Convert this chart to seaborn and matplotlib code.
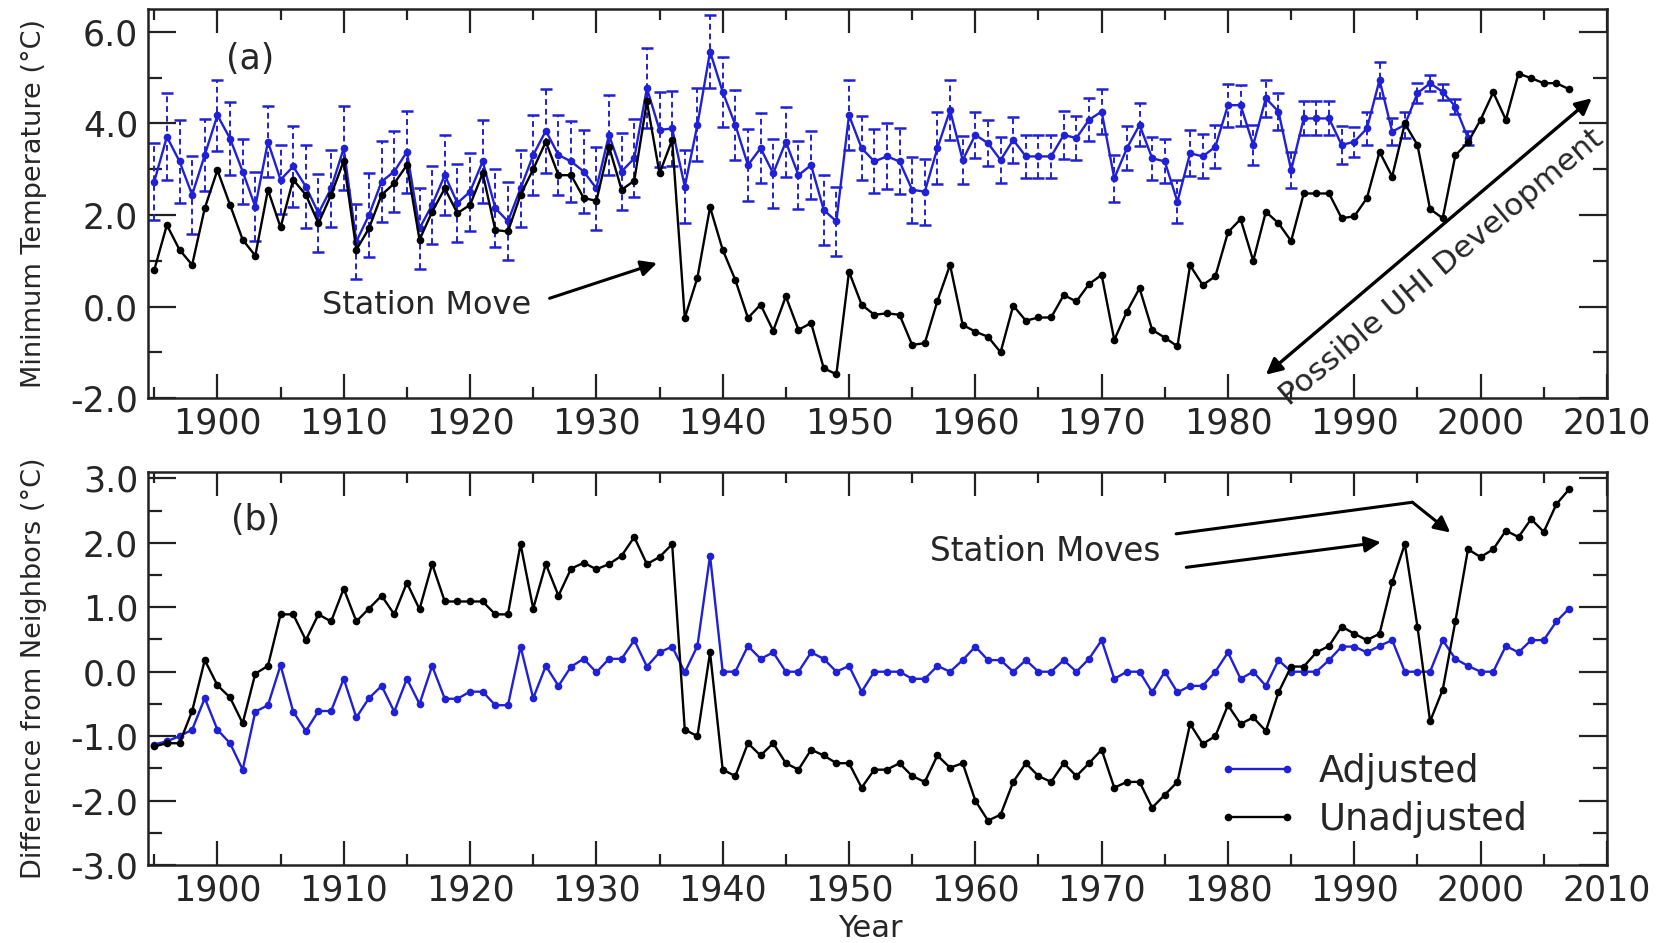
import matplotlib
matplotlib.use('Agg')
import matplotlib.pyplot as plt
from matplotlib.ticker import MultipleLocator, FormatStrFormatter
import seaborn as sns

start_year = 1895

# (a) минимальная температура, без корректировки
unadj_min = [
    0.80, 1.78, 1.24, 0.91, 2.15,
    2.98, 2.22, 1.46, 1.11, 2.55, 1.73, 2.77, 2.44, 1.82, 2.44,
    3.18, 1.24, 1.71, 2.44, 2.69, 3.09, 1.46, 2.07, 2.58, 2.04,
    2.22, 2.91, 1.67, 1.64, 2.44, 3.00, 3.60, 2.87, 2.87, 2.37,
    2.31, 3.49, 2.55, 2.75, 4.48, 2.91, 3.64, -0.25, 0.63, 2.17,
    1.24, 0.58, -0.25, 0.04, -0.53, 0.22, -0.51, -0.36, -1.35, -1.48,
    0.76, 0.04, -0.18, -0.15, -0.18, -0.84, -0.80, 0.12, 0.91, -0.40,
    -0.55, -0.66, -1.00, 0.02, -0.31, -0.24, -0.24, 0.25, 0.11, 0.49,
    0.69, -0.73, -0.11, 0.40, -0.51, -0.68, -0.87, 0.90, 0.47, 0.66,
    1.62, 1.91, 1.00, 2.07, 1.82, 1.43, 2.47, 2.47, 2.47, 1.93,
    1.97, 2.37, 3.38, 2.84, 4.00, 3.53, 2.13, 1.93, 3.30, 3.59,
    4.08, 4.68, 4.08, 5.09, 4.99, 4.88, 4.88, 4.75,
]

# (a) минимальная температура, скорректированная (до 1999) и погрешность
adj_min = [
    2.73, 3.71, 3.17, 2.44, 3.31,
    4.18, 3.67, 2.95, 2.18, 3.60, 2.77, 3.06, 2.62, 2.04, 2.58,
    3.46, 1.42, 2.00, 2.73, 2.95, 3.38, 1.71, 2.22, 2.87, 2.26,
    2.51, 3.17, 2.15, 1.86, 2.58, 3.31, 3.84, 3.31, 3.17, 2.95,
    2.58, 3.75, 2.95, 3.24, 4.77, 3.86, 3.89, 2.62, 3.97, 5.57,
    4.69, 3.97, 3.09, 3.46, 2.91, 3.60, 2.87, 3.09, 2.11, 1.86,
    4.18, 3.46, 3.17, 3.28, 3.17, 2.55, 2.51, 3.46, 4.29, 3.20,
    3.75, 3.57, 3.20, 3.64, 3.28, 3.28, 3.28, 3.75, 3.68, 4.08,
    4.26, 2.80, 3.46, 3.97, 3.24, 3.17, 2.29, 3.35, 3.28, 3.49,
    4.40, 4.40, 3.53, 4.55, 4.26, 2.98, 4.11, 4.11, 4.11, 3.53,
    3.60, 3.89, 4.95, 3.82, 3.97, 4.66, 4.88, 4.69, 4.37, 3.68,
]
adj_min_err = [
    0.85, 0.95, 0.90, 0.85, 0.78,
    0.78, 0.80, 0.70, 0.75, 0.78, 0.75, 0.88, 0.90, 0.85, 0.85,
    0.92, 0.82, 0.92, 0.88, 0.88, 0.90, 0.88, 0.85, 0.88, 0.85,
    0.85, 0.90, 0.85, 0.85, 0.85, 0.88, 0.92, 0.88, 0.88, 0.90,
    0.90, 0.87, 0.85, 0.85, 0.87, 0.82, 0.82, 0.80, 0.80, 0.80,
    0.76, 0.76, 0.78, 0.76, 0.76, 0.76, 0.75, 0.75, 0.76, 0.76,
    0.76, 0.70, 0.70, 0.72, 0.72, 0.72, 0.72, 0.78, 0.66, 0.52,
    0.51, 0.50, 0.51, 0.51, 0.47, 0.47, 0.47, 0.52, 0.48, 0.47,
    0.50, 0.51, 0.48, 0.47, 0.47, 0.48, 0.47, 0.50, 0.48, 0.47,
    0.47, 0.45, 0.44, 0.40, 0.40, 0.40, 0.37, 0.37, 0.37, 0.42,
    0.33, 0.35, 0.40, 0.30, 0.28, 0.22, 0.18, 0.18, 0.16, 0.15,
]

# (b) разница с соседними станциями
unadj_diff = [
    -1.16, -1.11, -1.11, -0.61, 0.18,
    -0.21, -0.40, -0.80, -0.03, 0.09, 0.89, 0.89, 0.49, 0.89, 0.78,
    1.29, 0.78, 0.98, 1.18, 0.89, 1.38, 0.97, 1.67, 1.09, 1.09,
    1.09, 1.09, 0.89, 0.89, 1.98, 0.98, 1.67, 1.18, 1.60, 1.69,
    1.59, 1.67, 1.80, 2.09, 1.67, 1.78, 1.98, -0.90, -1.00, 0.30,
    -1.52, -1.62, -1.11, -1.30, -1.11, -1.42, -1.52, -1.21, -1.30, -1.42,
    -1.42, -1.80, -1.52, -1.52, -1.42, -1.62, -1.71, -1.30, -1.49, -1.42,
    -2.00, -2.31, -2.22, -1.71, -1.42, -1.62, -1.71, -1.42, -1.62, -1.42,
    -1.21, -1.80, -1.71, -1.71, -2.11, -1.91, -1.71, -0.81, -1.12, -1.00,
    -0.52, -0.81, -0.71, -0.92, -0.32, 0.08, 0.08, 0.30, 0.40, 0.70,
    0.59, 0.49, 0.59, 1.39, 1.98, 0.70, -0.77, -0.28, 0.78, 1.90,
    1.78, 1.90, 2.19, 2.09, 2.37, 2.17, 2.60, 2.83,
]
adj_diff = [
    -1.13, -1.08, -1.00, -0.90, -0.41,
    -0.90, -1.11, -1.52, -0.62, -0.52, 0.10, -0.62, -0.92, -0.61, -0.61,
    -0.11, -0.71, -0.41, -0.22, -0.62, -0.11, -0.50, 0.09, -0.42, -0.42,
    -0.31, -0.31, -0.52, -0.52, 0.39, -0.41, 0.09, -0.22, 0.08, 0.20,
    -0.01, 0.20, 0.20, 0.49, 0.08, 0.30, 0.39, -0.01, 0.40, 1.80,
    0.00, 0.00, 0.40, 0.20, 0.30, 0.00, 0.00, 0.30, 0.20, 0.00,
    0.09, -0.31, 0.00, 0.00, 0.00, -0.11, -0.11, 0.09, 0.00, 0.18,
    0.39, 0.18, 0.18, 0.00, 0.18, 0.00, 0.00, 0.18, 0.00, 0.20,
    0.49, -0.11, 0.00, 0.00, -0.32, 0.00, -0.32, -0.22, -0.22, 0.00,
    0.30, -0.11, 0.00, -0.22, 0.18, 0.00, 0.00, 0.00, 0.18, 0.39,
    0.39, 0.30, 0.40, 0.49, 0.00, 0.00, 0.00, 0.49, 0.20, 0.09,
    0.00, 0.00, 0.40, 0.30, 0.49, 0.49, 0.78, 0.98,
]

years_all = list(range(start_year, start_year + len(unadj_min)))
years_adj = list(range(start_year, start_year + len(adj_min)))

BLUE = '#2020d6'

sns.set_style('ticks')
plt.rcParams['font.family'] = ['DejaVu Sans']
plt.rcParams['axes.linewidth'] = 1.8
plt.rcParams['axes.edgecolor'] = '#222222'

fig = plt.figure(figsize=(16.64, 9.43), dpi=100)
ax_a = fig.add_axes([0.0889, 0.5779, 0.8768, 0.4125])
ax_b = fig.add_axes([0.0889, 0.0827, 0.8768, 0.4168])

line_kw = dict(marker='o', markersize=5.5, markeredgewidth=0, linewidth=1.7)

# --- панель (a) ---
eb = ax_a.errorbar(years_adj, adj_min, yerr=adj_min_err, fmt='none', ecolor=BLUE,
                   elinewidth=1.4, capsize=4.5, capthick=1.8, zorder=2)
eb[2][0].set_linestyle((0, (3, 2)))
sns.lineplot(x=years_adj, y=adj_min, ax=ax_a, color=BLUE, zorder=3, **line_kw)
sns.lineplot(x=years_all, y=unadj_min, ax=ax_a, color='black', zorder=4, **line_kw)

ax_a.set_xlim(1894.5, 2010)
ax_a.set_ylim(-2.0, 6.5)
ax_a.yaxis.set_major_locator(MultipleLocator(2.0))
ax_a.yaxis.set_minor_locator(MultipleLocator(1.0))
ax_a.set_ylabel('Minimum Temperature (°C)', fontsize=19.5)
ax_a.set_xlabel('')

ax_a.text(1902.6, 5.41, '(a)', fontsize=25, ha='center', va='center')
ax_a.text(1908.3, 0.02, 'Station Move', fontsize=23, ha='left', va='center')
ax_a.annotate('', xy=(1934.8, 0.95), xytext=(1926.3, 0.18),
              arrowprops=dict(arrowstyle='-|>', color='black', lw=2.2,
                              mutation_scale=24, shrinkA=0, shrinkB=0))
ax_a.annotate('', xy=(2008.8, 4.55), xytext=(1983.0, -1.49),
              arrowprops=dict(arrowstyle='<|-|>', color='black', lw=2.4,
                              mutation_scale=24, shrinkA=0, shrinkB=0))
ax_a.text(1996.9, 0.85, 'Possible UHI Development', fontsize=22.5, rotation=40,
          rotation_mode='anchor', ha='center', va='center')

# --- панель (b) ---
sns.lineplot(x=years_all, y=adj_diff, ax=ax_b, color=BLUE, label='Adjusted',
             zorder=3, **line_kw)
sns.lineplot(x=years_all, y=unadj_diff, ax=ax_b, color='black', label='Unadjusted',
             zorder=4, **line_kw)

ax_b.set_xlim(1894.5, 2010)
ax_b.set_ylim(-3.0, 3.1)
ax_b.yaxis.set_major_locator(MultipleLocator(1.0))
ax_b.yaxis.set_minor_locator(MultipleLocator(0.5))
ax_b.set_ylabel('Difference from Neighbors (°C)', fontsize=19.5)
ax_b.set_xlabel('Year', fontsize=22)
ax_b.xaxis.set_label_coords(0.495, -0.125)

ax_b.text(1903.0, 2.35, '(b)', fontsize=25, ha='center', va='center')
ax_b.text(1956.4, 1.86, 'Station Moves', fontsize=23.5, ha='left', va='center')
ax_b.annotate('', xy=(1992.1, 2.01), xytext=(1976.7, 1.62),
              arrowprops=dict(arrowstyle='-|>', color='black', lw=2.2,
                              mutation_scale=24, shrinkA=0, shrinkB=0))
ax_b.annotate('', xy=(1994.6, 2.63), xytext=(1975.9, 2.14),
              arrowprops=dict(arrowstyle='-', color='black', lw=2.2,
                              shrinkA=0, shrinkB=0))
ax_b.annotate('', xy=(1997.6, 2.16), xytext=(1994.6, 2.63),
              arrowprops=dict(arrowstyle='-|>', color='black', lw=2.2,
                              mutation_scale=24, shrinkA=0, shrinkB=0))

ax_b.legend(loc='upper left', bbox_to_anchor=(0.733, 0.285), frameon=False,
            fontsize=26.5, numpoints=2, handlelength=2.2, handletextpad=0.55,
            labelspacing=0.3, borderaxespad=0, borderpad=0)

# общие настройки осей
for ax in (ax_a, ax_b):
    ax.xaxis.set_major_locator(MultipleLocator(10))
    ax.xaxis.set_minor_locator(MultipleLocator(5))
    ax.yaxis.set_major_formatter(FormatStrFormatter('%.1f'))
    ax.tick_params(which='both', direction='in', top=True, right=True,
                   width=1.6, color='#222222', labelsize=25)
    ax.tick_params(axis='x', which='major', length=17, pad=6)
    ax.tick_params(axis='x', which='minor', length=8)
    ax.tick_params(axis='y', which='major', length=20, pad=7)
    ax.tick_params(axis='y', which='minor', length=10)
    ax.yaxis.set_label_coords(-0.069, 0.5)

fig.savefig('out.png', dpi=100)
